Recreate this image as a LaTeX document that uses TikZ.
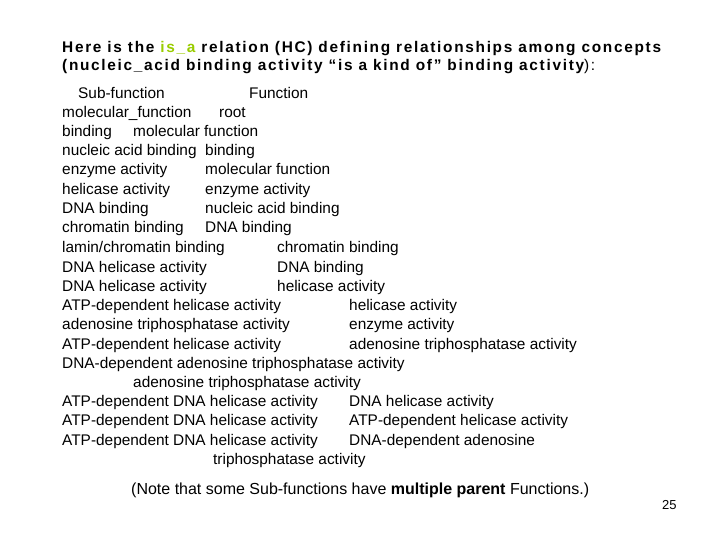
\documentclass[tikz,border=0pt]{standalone}
\usepackage{fontspec}
\setmainfont{Liberation Sans}
\definecolor{isagreen}{RGB}{153,204,0}
\tikzset{
  row/.style={anchor=base west, inner sep=0pt, font=\fontsize{15.4}{17}\selectfont},
  head/.style={row, font=\fontsize{15.4}{17}\selectfont\bfseries\addfontfeature{LetterSpace=11}}
}
\begin{document}
\begin{tikzpicture}[x=1pt,y=-1pt]
\useasboundingbox (0,0) rectangle (720,540);
% title
\node [head] (title1) at (62,53) {Here is the \textcolor{isagreen}{is\_a} relation (HC) defining relationships among concepts};
\node [head] (title2) at (62,71) {(nucleic\_acid binding activity “is a kind of” binding activity\mdseries):};
% table header
\node [row] (hsub) at (78,99) {Sub-function};
\node [row] (hfun) at (249,99) {Function};
% rows: baseline / sub-function / x of function / function
\foreach \y/\a/\xb/\b [count=\i] in {
  118/molecular\_function/219/root,
  137/binding/133/molecular function,
  156/nucleic acid binding/205/binding,
  175/enzyme activity/205/molecular function,
  195/helicase activity/205/enzyme activity,
  214/DNA binding/205/nucleic acid binding,
  233/chromatin binding/205/DNA binding,
  252/{lamin/chromatin binding}/277/chromatin binding,
  272/DNA helicase activity/277/DNA binding,
  291/DNA helicase activity/277/helicase activity,
  310/ATP-dependent helicase activity/349/helicase activity,
  329/adenosine triphosphatase activity/349/enzyme activity,
  349/ATP-dependent helicase activity/349/adenosine triphosphatase activity,
  406/ATP-dependent DNA helicase activity/349/DNA helicase activity,
  425/ATP-dependent DNA helicase activity/349/ATP-dependent helicase activity,
  445/ATP-dependent DNA helicase activity/349/DNA-dependent adenosine}
{
  \node [row] (sub\i) at (62,\y) {\a};
  \node [row] (fun\i) at (\xb,\y) {\b};
}
\node [row] (sub14) at (62,368) {DNA-dependent adenosine triphosphatase activity};
\node [row] (fun14) at (133,387) {adenosine triphosphatase activity};
\node [row] (fun18) at (213,464) {triphosphatase activity};
% footnote
\node [row, font=\fontsize{16}{18}\selectfont] (note) at (131,494) {(Note that some Sub-functions have \textbf{multiple parent} Functions.)};
\node [row, font=\fontsize{13}{15}\selectfont] (page) at (662,509) {25};
\end{tikzpicture}
\end{document}
